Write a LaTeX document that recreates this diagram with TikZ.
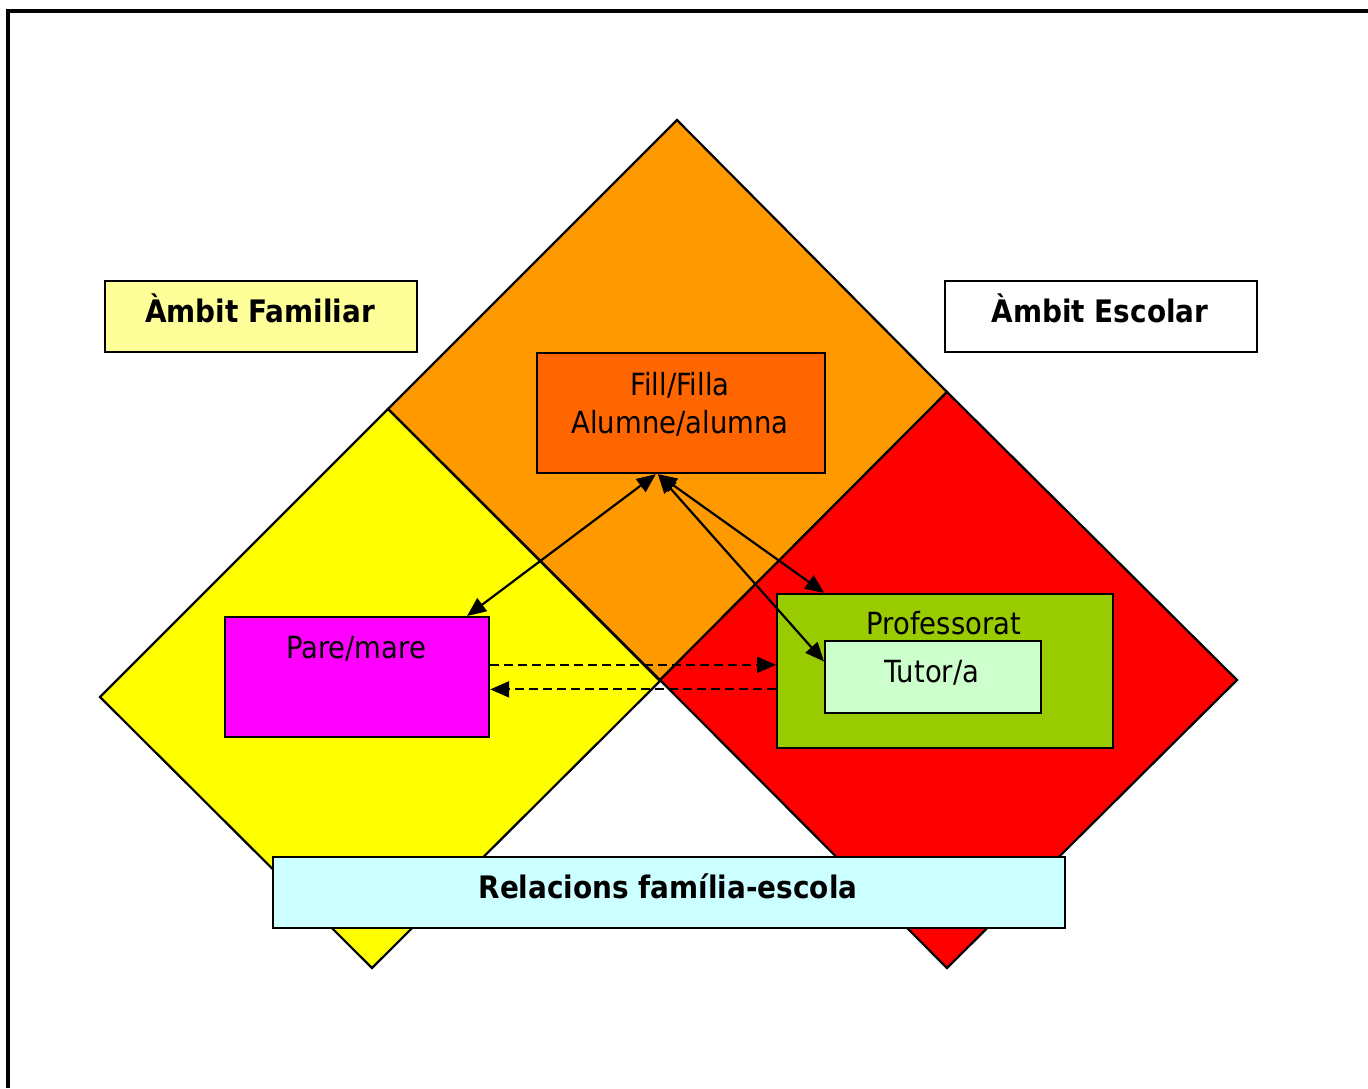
\documentclass[tikz,border=0pt]{standalone}
\usepackage{fontspec}
\setmainfont{DejaVu Sans Condensed}
\usetikzlibrary{arrows.meta,calc}
\definecolor{cyel}{HTML}{FFFF00}
\definecolor{corg}{HTML}{FF9900}
\definecolor{cred}{HTML}{FF0000}
\definecolor{clyel}{HTML}{FFFF99}
\definecolor{cfill}{HTML}{FF6600}
\definecolor{cmag}{HTML}{FF00FF}
\definecolor{cgrn}{HTML}{99CC00}
\definecolor{ctut}{HTML}{CCFFCC}
\definecolor{ccyan}{HTML}{CCFFFF}
\tikzset{
  area/.style={draw=black,line width=2.2pt,line join=miter},
  box/.style={draw=black,line width=2.2pt,rectangle,inner sep=0pt,anchor=north west},
  txt/.style={anchor=base,inner sep=0pt,font=\fontsize{30.5}{39}\selectfont},
  btxt/.style={anchor=base,inner sep=0pt,font=\fontsize{31}{39}\selectfont\bfseries},
  conn/.style={line width=2.2pt,{Triangle[length=19pt,width=16pt]}-{Triangle[length=19pt,width=16pt]}},
  dconn/.style={line width=2.2pt,dash pattern=on 9pt off 5pt,-{Triangle[length=19pt,width=16pt]}}
}
\begin{document}
\begin{tikzpicture}[x=1pt,y=-1pt]
\useasboundingbox (0,0) rectangle (1368,1088);
\fill[white] (0,0) rectangle (1368,1088);
% frame
\draw[line width=3.4pt] (8,1088) -- (8,11) -- (1368,11);
% areas
\draw[area,fill=corg] (677,120) -- (947,392) -- (660,680) -- (388,409) -- cycle;
\draw[area,fill=cyel] (388,409) -- (660,681) -- (372,968) -- (100,697) -- cycle;
\draw[area,fill=cred] (947,392) -- (1237,680) -- (947,968) -- (660,680) -- cycle;
% boxes
\node[box,fill=clyel,minimum width=312pt,minimum height=71pt] (fam) at (104,280) {};
\node[btxt] (famtxt) at (260,322) {\`Ambit Familiar};
\node[box,fill=white,minimum width=312pt,minimum height=71pt] (esc) at (944,280) {};
\node[btxt] (esctxt) at (1100,322) {\`Ambit Escolar};
\node[box,fill=cfill,minimum width=288pt,minimum height=120pt] (fill) at (536,352) {};
\node[txt] (filltxt) at (680,395) {Fill/Filla};
\node[txt] (alumtxt) at (680,433) {Alumne/alumna};
\node[box,fill=cmag,minimum width=264pt,minimum height=120pt] (pare) at (224,616) {};
\node[txt] (paretxt) at (356,658) {Pare/mare};
\node[box,fill=cgrn,minimum width=336pt,minimum height=154pt] (prof) at (776,593) {};
\node[txt] (proftxt) at (944,634) {Professorat};
\node[box,fill=ctut,minimum width=216pt,minimum height=72pt] (tut) at (824,640) {};
\node[txt] (tuttxt) at (932,682) {Tutor/a};
\node[box,fill=ccyan,minimum width=792pt,minimum height=71pt] (rel) at (272,856) {};
\node[btxt] (reltxt) at (668,898) {Relacions fam\'ilia-escola};
% connectors
\draw[conn] ($(fill.south west)!0.413!(fill.south east)$) -- ($(pare.north west)!0.913!(pare.north east)$);
\draw[conn] ($(fill.south west)!0.42!(fill.south east)$) -- ($(prof.north west)!0.143!(prof.north east)$);
\draw[conn] ($(fill.south west)!0.42!(fill.south east)$) -- ($(tut.north west)!0.29!(tut.south west)$);
\coordinate (d1) at ($(pare.north east)!0.4!(pare.south east)$);
\coordinate (d2) at ($(prof.north west)!0.617!(prof.south west)$);
\draw[dconn] (d1) -- (d1 -| prof.west);
\draw[dconn] (d2) -- (d2 -| pare.east);
\end{tikzpicture}
\end{document}
